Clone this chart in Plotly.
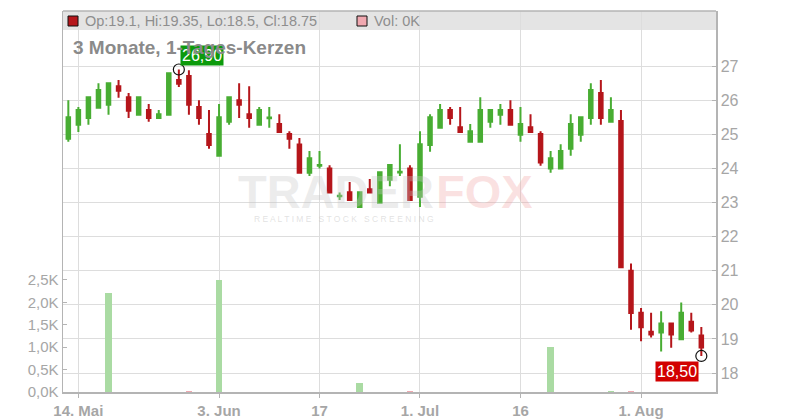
import plotly.graph_objects as go

dates = [
    "2024-05-13", "2024-05-14", "2024-05-15", "2024-05-16", "2024-05-17",
    "2024-05-20", "2024-05-21", "2024-05-22", "2024-05-23", "2024-05-24",
    "2024-05-27", "2024-05-28", "2024-05-29", "2024-05-30", "2024-05-31",
    "2024-06-03", "2024-06-04", "2024-06-05", "2024-06-06", "2024-06-07",
    "2024-06-10", "2024-06-11", "2024-06-12", "2024-06-13", "2024-06-14",
    "2024-06-17", "2024-06-18", "2024-06-19", "2024-06-20", "2024-06-21",
    "2024-06-24", "2024-06-25", "2024-06-26", "2024-06-27", "2024-06-28",
    "2024-07-01", "2024-07-02", "2024-07-03", "2024-07-05", "2024-07-08",
    "2024-07-09", "2024-07-10", "2024-07-11", "2024-07-12", "2024-07-15",
    "2024-07-16", "2024-07-17", "2024-07-18", "2024-07-19", "2024-07-22",
    "2024-07-23", "2024-07-24", "2024-07-25", "2024-07-26", "2024-07-29",
    "2024-07-30", "2024-07-31", "2024-08-01", "2024-08-02", "2024-08-05",
    "2024-08-06", "2024-08-07", "2024-08-08", "2024-08-09",
]

open_ = [
    24.87, 25.28, 25.48, 25.78, 25.87, 26.41, 26.09, 25.57, 25.71, 25.48,
    25.57, 26.59, 26.71, 25.80, 25.01, 24.37, 25.37, 26.00, 25.59, 25.28,
    25.47, 25.30, 25.01, 24.70, 23.87, 24.08, 24.00, 23.18, 23.30, 22.87,
    23.39, 22.99, 23.67, 23.88, 24.00, 23.17, 24.69, 25.19, 25.71, 25.21,
    24.78, 24.78, 25.37, 25.57, 25.71, 24.99, 25.21, 25.01, 24.00, 24.00,
    24.58, 24.99, 25.48, 26.21, 25.37, 25.39, 21.00, 19.77, 19.21, 19.19,
    19.45, 18.99, 19.50, 19.10,
]
high = [
    26.00, 25.80, 26.09, 26.50, 26.50, 26.59, 26.21, 26.09, 25.89, 25.71,
    26.79, 26.90, 26.88, 26.00, 25.71, 25.89, 26.09, 26.50, 26.41, 25.80,
    25.80, 25.59, 25.09, 24.89, 24.51, 24.51, 24.09, 23.29, 23.60, 23.30,
    23.69, 23.89, 24.10, 24.71, 24.09, 25.09, 25.59, 25.89, 25.80, 25.80,
    25.30, 26.09, 25.71, 25.89, 26.00, 25.80, 25.59, 25.09, 24.51, 24.71,
    25.59, 25.50, 26.50, 26.59, 26.09, 25.71, 21.21, 19.91, 19.77, 19.81,
    19.45, 20.07, 19.77, 19.35,
]
low = [
    24.78, 25.07, 25.28, 25.78, 25.57, 26.07, 25.48, 25.57, 25.37, 25.48,
    25.57, 26.39, 25.57, 25.28, 24.58, 24.37, 25.28, 25.48, 25.19, 25.28,
    25.19, 25.07, 24.58, 23.87, 23.78, 24.00, 23.29, 23.07, 23.07, 22.87,
    23.29, 22.99, 23.48, 23.78, 23.07, 22.87, 24.49, 25.19, 25.28, 25.07,
    24.78, 24.78, 25.19, 25.28, 25.28, 24.78, 25.07, 24.08, 23.87, 24.00,
    24.37, 24.78, 25.28, 25.28, 25.37, 21.10, 19.27, 18.93, 19.04, 18.63,
    18.74, 18.99, 19.19, 18.50,
]
close = [
    25.50, 25.71, 26.09, 26.30, 26.50, 26.28, 25.69, 26.09, 25.48, 25.59,
    26.79, 26.48, 25.87, 25.48, 24.69, 25.50, 26.09, 25.87, 25.48, 25.71,
    25.49, 25.07, 24.87, 23.87, 24.30, 24.10, 23.29, 23.20, 23.07, 23.30,
    23.29, 23.89, 24.10, 23.90, 23.07, 24.71, 25.50, 25.71, 25.48, 25.07,
    25.09, 25.71, 25.71, 25.71, 25.28, 25.30, 25.07, 24.17, 24.30, 24.51,
    25.30, 25.50, 26.30, 25.48, 25.71, 21.10, 19.76, 19.34, 19.13, 19.45,
    19.13, 19.77, 19.25, 18.75,
]
volume_k = [
    0, 0, 0, 0, 2.21, 0, 0, 0, 0, 0,
    0, 0, 0.03, 0, 0, 2.51, 0, 0, 0, 0,
    0, 0, 0, 0, 0, 0, 0, 0, 0, 0.20,
    0, 0, 0, 0, 0.03, 0, 0, 0, 0, 0,
    0, 0, 0, 0, 0, 0, 0, 0, 1.00, 0,
    0, 0, 0, 0, 0.03, 0, 0.03, 0, 0, 0,
    0, 0, 0, 0,
]

tick_dates = ["2024-05-14", "2024-06-03", "2024-06-17", "2024-07-01", "2024-07-16", "2024-08-01"]
tick_text = ["14. Mai", "3. Jun", "17", "1. Jul", "16", "1. Aug"]
price_ticks = [18, 19, 20, 21, 22, 23, 24, 25, 26, 27]
vol_ticks = [0, 0.5, 1.0, 1.5, 2.0, 2.5]
vol_text = ["0,0K", "0,5K", "1,0K", "1,5K", "2,0K", "2,5K"]

GREEN = "#48ad33"
RED = "#b5161b"
VGREEN = "#aadba3"
VRED = "#f0a8b0"
FONT = "Liberation Sans"
AX = "#b4b4b4"
GRID = "#dddddd"
TXT = "#a6a6a6"

vol_colors = [VGREEN if c >= o else VRED for o, c in zip(open_, close)]

fig = go.Figure()
fig.add_trace(go.Bar(
    x=dates, y=volume_k, marker_color=vol_colors, marker_line_width=0,
    width=0.67, yaxis="y", showlegend=False, hoverinfo="skip",
))
fig.add_trace(go.Candlestick(
    x=dates, open=open_, high=high, low=low, close=close, yaxis="y2",
    increasing=dict(line=dict(color=GREEN, width=2), fillcolor=GREEN),
    decreasing=dict(line=dict(color=RED, width=2), fillcolor=RED),
    whiskerwidth=0, showlegend=False, hoverinfo="skip",
))
hi_i = high.index(max(high))
lo_i = low.index(min(low))
fig.add_trace(go.Scatter(
    x=[dates[hi_i], dates[lo_i]], y=[high[hi_i], low[lo_i]], mode="markers",
    marker=dict(symbol="circle-open", size=11, color="#111111", line=dict(width=1.2)),
    yaxis="y2", showlegend=False, hoverinfo="skip",
))

def px_x(px):
    return (px - 63) / 653.0

def px_y(py):
    return (392 - py) / 381.0

fig.update_layout(
    width=800, height=420,
    margin=dict(l=63, r=84, t=11, b=28, autoexpand=False),
    paper_bgcolor="white", plot_bgcolor="white",
    font=dict(family=FONT),
    boxgap=0.5,
    bargap=0,
    hovermode=False,
    xaxis=dict(
        type="category", range=[-0.53, 64.46], rangeslider=dict(visible=False),
        tickvals=tick_dates, ticktext=tick_text,
        showgrid=True, gridcolor=GRID, gridwidth=1,
        showline=True, linecolor=AX, linewidth=1.5,
        ticks="outside", ticklen=4, tickcolor=AX,
        tickfont=dict(size=15, color=TXT, family=FONT, weight="bold"),
        fixedrange=True,
    ),
    yaxis=dict(
        side="left", range=[0, 8.504],
        tickvals=vol_ticks, ticktext=vol_text,
        showgrid=False, zeroline=False,
        showline=True, linecolor=AX, linewidth=1.5,
        ticks="inside", ticklen=4, tickcolor=AX,
        tickfont=dict(size=15, color=TXT, family=FONT),
        fixedrange=True,
    ),
    yaxis2=dict(
        overlaying="y", side="right", range=[17.443, 28.616],
        tickvals=price_ticks,
        showgrid=True, gridcolor=GRID, gridwidth=1, zeroline=False,
        showline=True, linecolor=AX, linewidth=1.5,
        ticks="inside", ticklen=4, tickcolor=AX,
        tickfont=dict(size=16, color=TXT, family=FONT),
        fixedrange=True,
    ),
)

shapes = [
    dict(type="rect", xref="paper", yref="paper", x0=0, x1=1, y0=px_y(30), y1=1,
         fillcolor="#e4e4e4", line=dict(width=0), layer="below"),
    dict(type="line", xref="paper", yref="paper", x0=0, x1=1, y0=1, y1=1,
         line=dict(color=AX, width=1.5)),
    dict(type="rect", xref="paper", yref="paper", x0=px_x(68), x1=px_x(78), y0=px_y(26), y1=px_y(16),
         fillcolor=RED, line=dict(color="#111111", width=1)),
    dict(type="rect", xref="paper", yref="paper", x0=px_x(357), x1=px_x(367), y0=px_y(26), y1=px_y(16),
         fillcolor="#f0a8b0", line=dict(color="#111111", width=1)),
]
fig.update_layout(shapes=shapes)

annotations = [
    dict(xref="paper", yref="paper", x=px_x(436), y=px_y(191), xanchor="right", yanchor="middle",
         text="<b>TRADER</b>", showarrow=False,
         font=dict(size=47, color="rgba(200,200,200,0.35)", family=FONT)),
    dict(xref="paper", yref="paper", x=px_x(434), y=px_y(191), xanchor="left", yanchor="middle",
         text="<b>FOX</b>", showarrow=False,
         font=dict(size=47, color="rgba(240,150,150,0.28)", family=FONT)),
    dict(xref="paper", yref="paper", x=px_x(252), y=px_y(219), xanchor="left", yanchor="middle",
         text="R E A L T I M E   S T O C K   S C R E E N I N G", showarrow=False,
         font=dict(size=8.5, color="rgba(190,190,190,0.45)", family=FONT)),
    dict(x=dates[hi_i], y=high[hi_i], xref="x", yref="y2", xanchor="left", yanchor="bottom",
         xshift=1, yshift=4, text="26,90", showarrow=False, bgcolor="#0c9a0c", borderpad=1,
         font=dict(size=16, color="white", family=FONT)),
    dict(x=dates[lo_i], y=low[lo_i], xref="x", yref="y2", xanchor="right", yanchor="top",
         xshift=-2, yshift=-5, text="18,50", showarrow=False, bgcolor="#d20000", borderpad=1,
         font=dict(size=16, color="white", family=FONT)),
    dict(xref="paper", yref="paper", x=px_x(83), y=px_y(21), xanchor="left", yanchor="middle",
         text="Op:19.1, Hi:19.35, Lo:18.5, Cl:18.75", showarrow=False,
         font=dict(size=14.5, color="#8e8e8e", family=FONT)),
    dict(xref="paper", yref="paper", x=px_x(372), y=px_y(21), xanchor="left", yanchor="middle",
         text="Vol: 0K", showarrow=False,
         font=dict(size=14.5, color="#8e8e8e", family=FONT)),
    dict(xref="paper", yref="paper", x=px_x(71), y=px_y(47), xanchor="left", yanchor="middle",
         text="<b>3 Monate, 1-Tages-Kerzen</b>", showarrow=False,
         font=dict(size=19, color="#8a8a8a", family=FONT)),
]
fig.update_layout(annotations=annotations)

fig.write_html(
    "out.html",
    config={"displayModeBar": False, "staticPlot": True},
    post_script="document.body.style.margin='0';document.body.style.overflow='hidden';",
)
